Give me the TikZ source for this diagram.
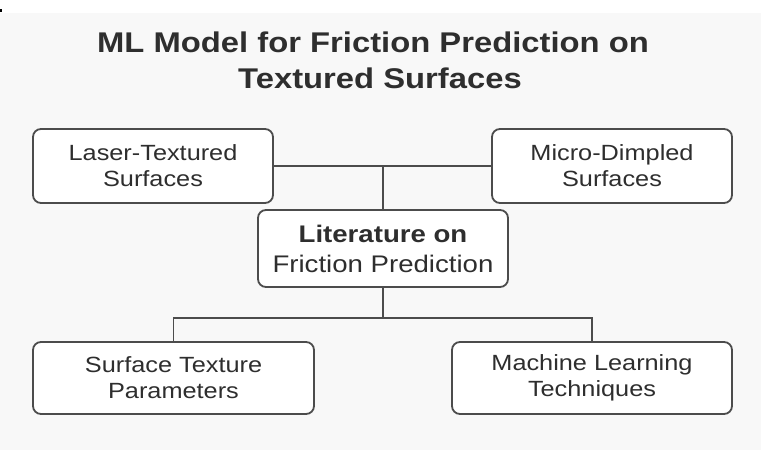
\documentclass[tikz,border=0pt]{standalone}
\usepackage{fontspec}
\setmainfont[FakeStretch=1.15]{Liberation Sans}
\definecolor{ink}{HTML}{2E2E2E}
\definecolor{rule}{HTML}{4C4C4C}
\definecolor{paper}{HTML}{F8F8F8}
\begin{document}
\begin{tikzpicture}[x=1pt,y=-1pt,
  box/.style={draw=rule, line width=1.8pt, rounded corners=8pt, fill=white,
    text=ink, align=center, inner sep=0pt,
    font=\fontsize{22}{26}\selectfont},
  link/.style={draw=rule, line width=1.8pt},
  heading/.style={anchor=base, text=ink, inner sep=0pt,
    font=\fontsize{28.5}{36}\selectfont\bfseries}]
  % canvas
  \fill[white] (0,0) rectangle (761,450);
  \fill[paper] (0,13) rectangle (761,450);
  \fill[black] (0,9) rectangle (2,12);
  \useasboundingbox (0,0) rectangle (761,450);

  % title
  \node[heading] (t1) at (373,52) {ML Model for Friction Prediction on};
  \node[heading] (t2) at (380,88) {Textured Surfaces};

  % boxes
  \node[box, minimum width=240pt, minimum height=74pt] (laser) at (153,166)
    {Laser-Textured\\Surfaces};
  \node[box, minimum width=240pt, minimum height=74pt] (micro) at (612,166)
    {Micro-Dimpled\\Surfaces};
  \node[box, minimum width=250pt, minimum height=77pt,
    font=\fontsize{24}{30}\selectfont] (lit) at (383,248.5)
    {\textbf{Literature on}\\Friction Prediction};
  \node[box, minimum width=281pt, minimum height=72pt] (surf) at (173.5,378)
    {Surface Texture\\Parameters};
  \node[box, minimum width=280pt, minimum height=72pt] (ml) at (592,378)
    {Machine Learning\\Techniques};

  % connectors
  \coordinate (tj) at (lit.north |- laser.east);
  \coordinate (bj) at (383,318);
  \draw[link] (laser.east) -- (micro.west);
  \draw[link] (tj) -- (lit.north);
  \draw[link] (lit.south) -- (bj);
  \draw[link] (surf.north) |- (bj);
  \draw[link] (ml.north) |- (bj);
\end{tikzpicture}
\end{document}
